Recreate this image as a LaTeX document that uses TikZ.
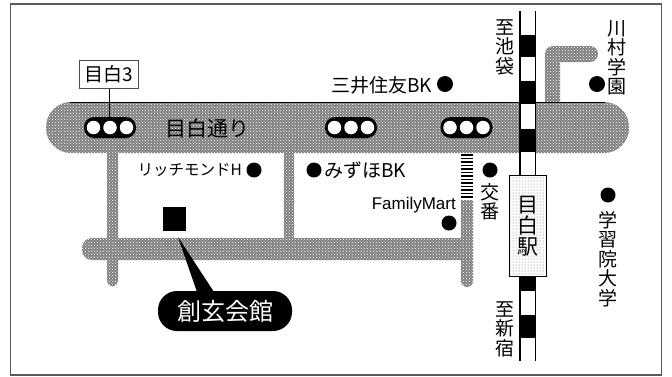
\documentclass[tikz,border=0pt]{standalone}
\usepackage{fontspec}
\setmainfont{Liberation Sans}
\newfontfamily\cjk{Noto Sans CJK JP}
\usetikzlibrary{patterns}
\definecolor{roadgray}{gray}{0.5}
\tikzset{
  road/.style={fill=roadgray,draw=none,postaction={pattern=crosshatch dots,pattern color=white}},
  poi/.style={circle,fill=black,inner sep=0pt,minimum size=15pt},
  sig/.style={circle,fill=white,inner sep=0pt,minimum size=13.5pt},
  lbl/.style={inner sep=0pt,font=\fontsize{19}{19}\selectfont\cjk},
  vlbl/.style={inner sep=0pt,align=center,font=\fontsize{19}{19.5}\selectfont\cjk},
  railb/.style={fill=black,draw=none},
}
\newcommand{\sigpill}[2]{%
  \fill[black,rounded corners=10pt] (#1-26,#2-10.5) rectangle (#1+26,#2+10.5);
  \node[sig] at (#1-16.5,#2) {};
  \node[sig] at (#1,#2) {};
  \node[sig] at (#1+16.5,#2) {};
}
\begin{document}
\begin{tikzpicture}[x=1pt,y=-1pt]
\useasboundingbox (0,0) rectangle (672,376);
\fill[white] (0,0) rectangle (672,376);
\draw[line width=1.2pt,black!65] (10.5,4) rectangle (661.5,375);
% roads
\path[road] (107,150) -- (107,281) arc[start angle=180,end angle=0,radius=5.5] -- (118,150) -- cycle;
\path[road] (284,150) rectangle (294,240);
\path[road,rounded corners=10pt] (82,238) -- (82,260) -- (473,260) -- (473,238) -- cycle;
\path[road] (461,200) -- (461,281) arc[start angle=180,end angle=0,radius=6] -- (473,200) -- cycle;
\path[road] (545,110) -- (545,54) arc[start angle=180,end angle=270,radius=8] -- (590,46) arc[start angle=270,end angle=450,radius=8] -- (560,62) -- (560,110) -- cycle;
\path[road,rounded corners=25pt] (46,102) rectangle (629,153);
\draw[line width=0.6pt] (70,102) -- (605,102);
% crosswalk stripes
\foreach \y in {154,157.5,...,199} {\fill[black] (461,\y) rectangle (473,\y+1.7);}
% railway
\fill[white] (520,11) rectangle (535,361);
\draw[line width=1.2pt] (520,11) -- (520,361);
\draw[line width=0.8pt] (535,11) -- (535,361);
\fill[railb] (520,35) rectangle (535,57);
\fill[railb] (520,81) rectangle (535,104);
\fill[railb] (520,129) rectangle (535,152);
\fill[railb] (520,277) rectangle (536,291);
\fill[railb] (520,315) rectangle (536,338);
% station
\node[draw=black,line width=1pt,fill=white,minimum width=37pt,minimum height=101pt,inner sep=0pt] (station) at (528,226) {};
\fill[pattern=dots,pattern color=black!60] (510,176) rectangle (546,276);
\node[vlbl,font=\fontsize{21}{21}\selectfont\cjk] (stationname) at (528,226) {目\\白\\駅};
% signals
\sigpill{110}{127.5}
\coordinate (sigA) at (109,117);
\sigpill{351}{127.5}
\sigpill{466.5}{127.5}
% signal name
\node[draw=black!70,line width=0.6pt,fill=white,minimum width=59pt,minimum height=28.5pt,inner sep=0pt,font=\fontsize{19}{19}\selectfont\cjk] (meji3) at (109,74.5) {目白3};
\draw[line width=0.7pt] (meji3.south) -- (sigA);
% texts
\node[lbl,font=\fontsize{21}{21}\selectfont\cjk] (dori) at (207.5,128) {目白通り};
\node[lbl,anchor=east] (mitsui) at (432,85) {三井住友BK};
\node[poi,minimum size=16pt] (d1) at (445,84) {};
\node[lbl,anchor=east,font=\fontsize{15.5}{16}\selectfont\cjk] (rich) at (242,170) {リッチモンドH};
\node[poi] (d2) at (254,170) {};
\node[poi] (d3) at (314,170) {};
\node[lbl,anchor=west] (mizuho) at (324,170) {みずほBK};
\node[lbl,anchor=east,font=\fontsize{17}{17}\selectfont] (fm) at (456,205) {FamilyMart};
\node[poi] (d4) at (449,223) {};
\node[poi] (d5) at (490,170) {};
\node[vlbl] (koban) at (490,202) {交\\番};
\node[vlbl] (ike) at (505,47) {至\\池\\袋};
\node[vlbl] (shin) at (505,329) {至\\新\\宿};
\node[vlbl] (kawa) at (617,58) {川\\村\\学\\園};
\node[poi,minimum size=16pt] (d6) at (597,84) {};
\node[poi] (d7) at (608,195) {};
\node[vlbl] (gaku) at (608,259) {学\\習\\院\\大\\学};
% hall
\fill[black] (163,207) rectangle (186,231);
\node[fill=black,rounded corners=19pt,minimum width=134pt,minimum height=40pt,inner sep=0pt,text=white,font=\fontsize{24}{24}\selectfont\cjk] (hall) at (225,311) {創玄会館};
\coordinate (tip) at (178,237);
\fill[black] (tip) -- (197,292) -- (214,292) -- cycle;
\end{tikzpicture}
\end{document}
